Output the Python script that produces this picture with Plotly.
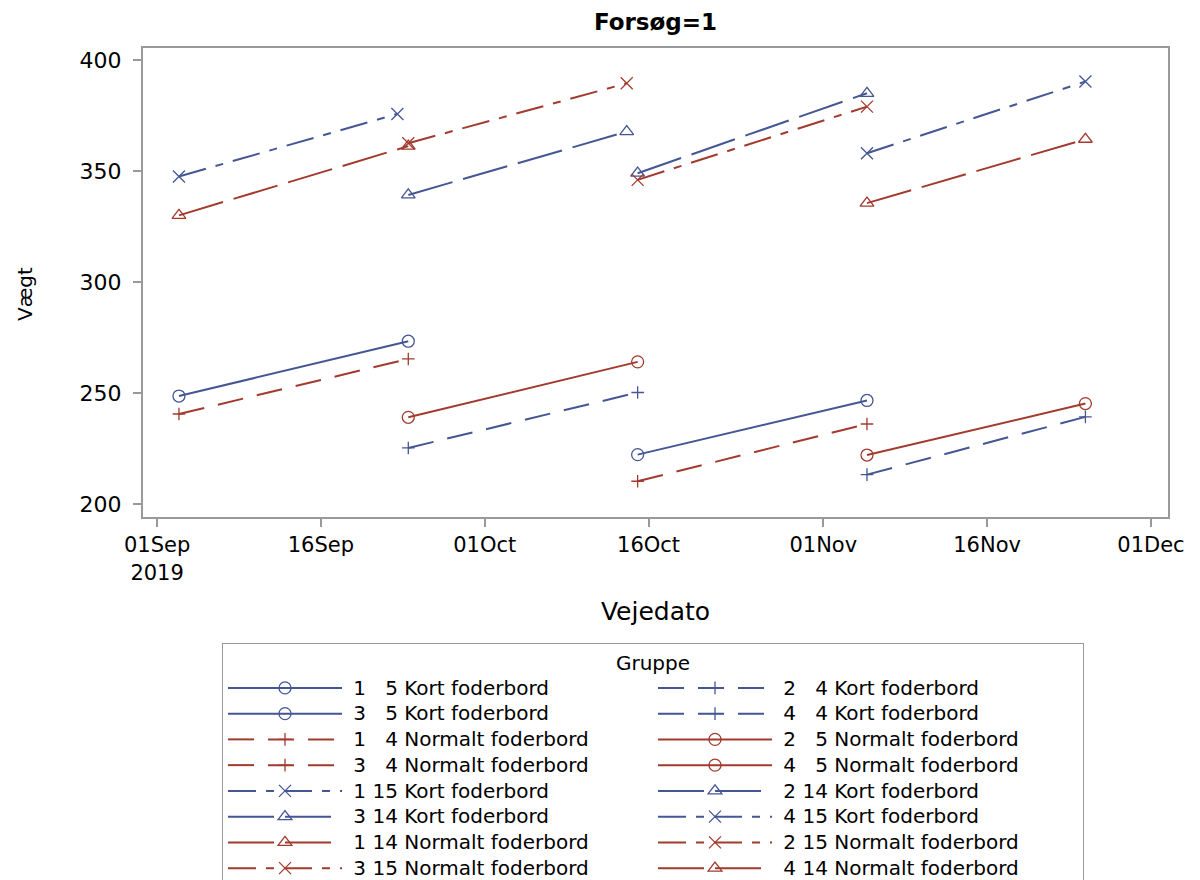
import plotly.graph_objects as go

# ---------------- data ----------------
groups = ["1", "2", "3", "4", "1", "2", "3", "4",
          "1", "2", "3", "4", "1", "2", "3", "4"]
codes = ["5", "4", "5", "4", "4", "5", "4", "5",
         "15", "14", "14", "15", "14", "15", "15", "14"]
feeds = ["Kort", "Kort", "Kort", "Kort", "Normalt", "Normalt", "Normalt", "Normalt",
         "Kort", "Kort", "Kort", "Kort", "Normalt", "Normalt", "Normalt", "Normalt"]
start_dates = ["2019-09-03", "2019-09-24", "2019-10-15", "2019-11-05",
               "2019-09-03", "2019-09-24", "2019-10-15", "2019-11-05",
               "2019-09-03", "2019-09-24", "2019-10-15", "2019-11-05",
               "2019-09-03", "2019-09-24", "2019-10-15", "2019-11-05"]
end_dates = ["2019-09-24", "2019-10-15", "2019-11-05", "2019-11-25",
             "2019-09-24", "2019-10-15", "2019-11-05", "2019-11-25",
             "2019-09-23", "2019-10-14", "2019-11-05", "2019-11-25",
             "2019-09-24", "2019-10-14", "2019-11-05", "2019-11-25"]
start_weights = [248.6, 225.2, 222.2, 213.2, 240.5, 239.0, 210.2, 222.0,
                 347.5, 339.2, 349.0, 358.0, 330.0, 362.5, 346.0, 335.5]
end_weights = [273.3, 250.2, 246.6, 239.2, 265.3, 264.0, 236.0, 245.2,
               375.7, 367.7, 385.0, 390.3, 361.2, 389.5, 379.0, 364.3]

x_tick_dates = ["2019-09-01", "2019-09-16", "2019-10-01", "2019-10-16",
                "2019-11-01", "2019-11-16", "2019-12-01"]
x_tick_labels = ["01Sep<br>2019", "16Sep", "01Oct", "16Oct", "01Nov", "16Nov", "01Dec"]
y_tick_values = [200, 250, 300, 350, 400]

# ---------------- styles ----------------
feed_colors = {"Kort": "#445694", "Normalt": "#A23A2E"}
code_symbols = {"5": "circle-open", "4": "cross-thin-open",
                "15": "x-thin-open", "14": "triangle-up-open"}
code_sizes = {"5": 12, "4": 9, "15": 12, "14": 12}
code_dashes = {"5": "solid", "4": "26px,14px",
               "15": "28px,10px,8px,10px", "14": "46px,11px"}

FONT = "DejaVu Sans"
FIG_SPACE = "\u2007"
NBSP = "\u00a0"

# page body has an 8px margin: build the figure 8px smaller and shift margins
W, H = 1192, 872
ML, MR, MT, MB = 135, 32, 40, 363
PW = W - ML - MR
PH = H - MT - MB

fig = go.Figure()
for g, c, f, sd, ed, sw, ew in zip(groups, codes, feeds, start_dates, end_dates,
                                   start_weights, end_weights):
    pad = FIG_SPACE if len(c) == 1 else ""
    label = g + " " + pad + c + " " + f + " foderbord"
    col = feed_colors[f]
    fig.add_trace(go.Scatter(
        x=[sd, ed], y=[sw, ew], mode="lines+markers",
        name='<span style="font-size:20px">' + NBSP + label + "</span>",
        line=dict(color=col, width=2, dash=code_dashes[c]),
        marker=dict(symbol=code_symbols[c], size=code_sizes[c], color=col,
                    line=dict(width=1.3, color=col)),
    ))

axis_common = dict(showline=True, mirror=True, linecolor="#999999", linewidth=2,
                   ticks="outside", ticklen=8, tickwidth=2, tickcolor="#999999",
                   showgrid=False, zeroline=False)

fig.update_layout(
    width=W, height=H,
    margin=dict(l=ML, r=MR, t=MT, b=MB, autoexpand=False),
    paper_bgcolor="white", plot_bgcolor="white",
    title=dict(text="<b>Forsøg=1</b>", x=0.5, xref="paper", y=1 - 14 / H,
               yanchor="middle", xanchor="center",
               font=dict(family=FONT, size=23, color="#000000")),
    xaxis=dict(type="date", range=["2019-08-30 17:00", "2019-12-02 13:30"],
               tickvals=x_tick_dates, ticktext=x_tick_labels,
               tickfont=dict(family=FONT, size=21, color="#000000"),
               title=dict(text="Vejedato", standoff=19,
                          font=dict(family=FONT, size=25, color="#000000")),
               **axis_common),
    yaxis=dict(range=[194.1, 405.4], tickvals=y_tick_values,
               tickfont=dict(family=FONT, size=22, color="#000000"),
               ticklabelstandoff=7,
               **axis_common),
    annotations=[dict(text="Vægt", textangle=-90, xref="paper", yref="paper",
                      x=(17 - ML) / PW, y=(H - MB - 286) / PH,
                      xanchor="center", yanchor="middle", showarrow=False,
                      font=dict(family=FONT, size=20, color="#000000"))],
    showlegend=True,
    legend=dict(orientation="h", x=(214 - ML) / PW, xanchor="left",
                y=(H - MB - 635) / PH, yanchor="top",
                bordercolor="#999999", borderwidth=1, bgcolor="white",
                font=dict(family=FONT, size=17.5, color="#000000"),
                title=dict(text="Gruppe", side="top center",
                           font=dict(family=FONT, size=20, color="#000000")),
                itemwidth=114, entrywidth=301, entrywidthmode="pixels",
                tracegroupgap=0, traceorder="normal"),
)

fig.write_html("out.html")
